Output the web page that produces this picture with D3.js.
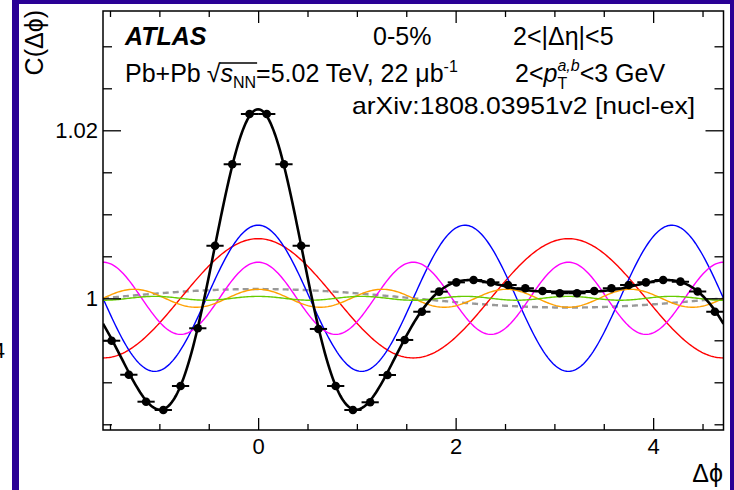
<!DOCTYPE html>
<html>
<head>
<meta charset="utf-8">
<script src="https://cdn.jsdelivr.net/npm/d3@7"></script>
<style>
body { margin: 0; background: #fff; }
svg { display: block; font-family: "Liberation Sans", Arial, Helvetica, sans-serif; }
</style>
</head>
<body>
<div id="chart"></div>
<script>
// data

// bin centres in delta-phi (bins of pi/18)
const binCentres = [-1.4835, -1.3090, -1.1345, -0.9599, -0.7854, -0.6109, -0.4363, -0.2618, -0.0873,
    0.0873, 0.2618, 0.4363, 0.6109, 0.7854, 0.9599, 1.1345, 1.3090, 1.4835,
    1.6581, 1.8326, 2.0071, 2.1817, 2.3562, 2.5307, 2.7053, 2.8798, 3.0543,
    3.2289, 3.4034, 3.5779, 3.7525, 3.9270, 4.1015, 4.2761, 4.4506, 4.6251];
const binWidth = Math.PI / 18;
// measured correlation C(dphi)
const corrValues = [0.99495, 0.99090, 0.98769, 0.98670, 0.98956, 0.99643, 1.00626, 1.01595, 1.02194,
    1.02194, 1.01595, 1.00626, 0.99635, 0.98956, 0.98670, 0.98762, 0.99087, 0.99504,
    0.99840, 1.00079, 1.00190, 1.00218, 1.00190, 1.00158, 1.00119, 1.00087, 1.00060,
    1.00060, 1.00087, 1.00119, 1.00158, 1.00190, 1.00218, 1.00198, 1.00081, 0.99840];

// fourier harmonics of the fit: amplitude of each cos(n dphi) term
const harmonicOrder = [1, 2, 3, 4, 5, 6];
const harmonicAmp = [0.0011, 0.0071, 0.0087, 0.0043, 0.00107, 0.00023];
const harmonicColor = ['#999999', '#ff0000', '#0000ff', '#ff00ff', '#ffa000', '#66cc00'];

// axis ticks
const xMajor = [0, 2, 4];
const xMinor = [-1.5, -1, -0.5, 0.5, 1, 1.5, 2.5, 3, 3.5, 4.5];
const yMajor = [1, 1.02];
const yMajorLabels = ['1', '1.02'];
const yMinor = [0.985, 0.99, 0.995, 1.005, 1.01, 1.015, 1.025, 1.03];

// layout
const W = 734, H = 490;
const plot = {left: 103, right: 723.5, top: 11, bottom: 430};
const frameBlue = '#2a0095';

const svg = d3.select('#chart').append('svg')
    .attr('width', W)
    .attr('height', H);

// blue frame strips
svg.append('rect').attr('x', 12).attr('y', 0).attr('width', 7).attr('height', H).attr('fill', frameBlue);
svg.append('rect').attr('x', 12).attr('y', 0).attr('width', W - 12).attr('height', 4).attr('fill', frameBlue);
svg.append('rect').attr('x', 730).attr('y', 0).attr('width', 4).attr('height', H).attr('fill', frameBlue);

// cut off label of the neighbouring panel (only its right edge shows)
svg.append('text').attr('x', 5).attr('y', 358).attr('text-anchor', 'end')
    .attr('font-size', 22).text('4');

// scales
let x = d3.scaleLinear()
    .domain([-Math.PI / 2, 3 * Math.PI / 2])
    .range([plot.left, plot.right]);
let y = d3.scaleLinear()
    .domain([0.984321, 1.034202])
    .range([plot.bottom, plot.top]);

svg.append('clipPath').attr('id', 'clip')
    .append('rect')
    .attr('x', plot.left).attr('y', plot.top)
    .attr('width', plot.right - plot.left).attr('height', plot.bottom - plot.top);

// fit components and the full fit
const samples = d3.range(0, 401).map(i => x.domain()[0] + i * (x.domain()[1] - x.domain()[0]) / 400);
const line = d3.line().x(d => x(d[0])).y(d => y(d[1]));

const curves = svg.append('g').attr('clip-path', 'url(#clip)');
harmonicOrder.forEach(function(n, i) {
    const pts = samples.map(p => [p, 1 + harmonicAmp[i] * Math.cos(n * p)]);
    curves.append('path')
        .attr('d', line(pts))
        .attr('fill', 'none')
        .attr('stroke', harmonicColor[i])
        .attr('stroke-width', n === 1 ? 2.4 : 1.4)
        .attr('stroke-dasharray', n === 1 ? '6,4' : null);
});
const fitPts = samples.map(p => [p, 1 + d3.sum(harmonicOrder, (n, i) => harmonicAmp[i] * Math.cos(n * p))]);
curves.append('path')
    .attr('d', line(fitPts))
    .attr('fill', 'none')
    .attr('stroke', '#000')
    .attr('stroke-width', 2.6);

// data points with bin-width bars
const pointData = binCentres.map((c, i) => ({c: c, v: corrValues[i]}));
const pts = svg.append('g').attr('clip-path', 'url(#clip)');
pts.selectAll('line.err')
    .data(pointData)
    .enter()
    .append('line')
    .attr('class', 'err')
    .attr('x1', d => x(d.c - binWidth / 2))
    .attr('x2', d => x(d.c + binWidth / 2))
    .attr('y1', d => y(d.v))
    .attr('y2', d => y(d.v))
    .attr('stroke', '#000')
    .attr('stroke-width', 2);
pts.selectAll('circle')
    .data(pointData)
    .enter()
    .append('circle')
    .attr('cx', d => x(d.c))
    .attr('cy', d => y(d.v))
    .attr('r', 4.3)
    .attr('fill', '#000');

// axes: ticks pointing inwards on all four sides
function ticks(axis, sel, vals, size, labels, pad) {
    axis.tickValues(vals).tickSizeInner(-size).tickSizeOuter(0).tickPadding(pad || 0)
        .tickFormat(labels ? ((d, i) => labels[i]) : '');
    const g = svg.append('g').attr('transform', sel).call(axis);
    g.select('.domain').remove();
    g.selectAll('.tick line').attr('stroke', '#000').attr('stroke-width', 1.3);
    g.selectAll('text').attr('font-size', 22).attr('fill', '#000')
        .attr('font-family', '"Liberation Sans", Arial, sans-serif');
    return g;
}
ticks(d3.axisBottom(x), `translate(0,${plot.bottom})`, xMajor, 12, xMajor.map(String), 8);
ticks(d3.axisBottom(x), `translate(0,${plot.bottom})`, xMinor, 6);
ticks(d3.axisTop(x), `translate(0,${plot.top})`, xMajor, 12);
ticks(d3.axisTop(x), `translate(0,${plot.top})`, xMinor, 6);
ticks(d3.axisLeft(y), `translate(${plot.left},0)`, yMajor, 18, yMajorLabels, 5);
ticks(d3.axisLeft(y), `translate(${plot.left},0)`, yMinor, 9);
ticks(d3.axisRight(y), `translate(${plot.right},0)`, yMajor, 18);
ticks(d3.axisRight(y), `translate(${plot.right},0)`, yMinor, 9);

svg.append('rect')
    .attr('x', plot.left).attr('y', plot.top)
    .attr('width', plot.right - plot.left).attr('height', plot.bottom - plot.top)
    .attr('fill', 'none').attr('stroke', '#000').attr('stroke-width', 1.5);

// axis titles
svg.append('text')
    .attr('transform', 'translate(43,10) rotate(-90)')
    .attr('text-anchor', 'end')
    .attr('font-size', 25)
    .text('C(\u0394\u03d5)');
svg.append('text')
    .attr('x', 723).attr('y', 482)
    .attr('text-anchor', 'end')
    .attr('font-size', 25)
    .text('\u0394\u03d5');

// labels built piece by piece (sub/superscripts)
function rich(x0, y0, pieces) {
    let cx = x0, holdW = 0;
    pieces.forEach(function(p) {
        const t = svg.append('text')
            .attr('x', cx).attr('y', y0 + (p.dy || 0))
            .attr('font-size', p.size || 25)
            .attr('font-style', p.italic ? 'italic' : null)
            .attr('font-weight', p.bold ? 'bold' : null)
            .text(p.t);
        const w = t.node().getComputedTextLength() + (p.gap || 0);
        p.x0 = cx; p.w = w;
        if (p.hold) { holdW = w; }
        else { cx += Math.max(w, holdW); holdW = 0; }
    });
    return pieces;
}

rich(125, 45, [{t: 'ATLAS', bold: true, italic: true}]);
rich(373, 45, [{t: '0-5%'}]);
rich(513, 45, [{t: '2<|\u0394\u03b7|<5'}]);

const l2 = rich(125, 82, [
    {t: 'Pb+Pb', gap: 6},
    {t: '\u221a'},
    {t: 's', italic: true},
    {t: 'NN', size: 16, dy: 6},
    {t: '=5.02 TeV, 22 \u03bcb'},
    {t: '-1', size: 16, dy: -10}
]);
svg.append('line')
    .attr('x1', l2[1].x0 + l2[1].w - 1).attr('x2', l2[3].x0 + l2[3].w + 1)
    .attr('y1', 63).attr('y2', 63)
    .attr('stroke', '#000').attr('stroke-width', 1.6);

rich(515, 82, [
    {t: '2<'},
    {t: 'p', italic: true},
    {t: 'a,b', size: 16, italic: true, dy: -11, hold: true},
    {t: 'T', size: 16, dy: 7},
    {t: '<3 GeV'}
]);

svg.append('text')
    .attr('x', 352).attr('y', 114)
    .attr('font-size', 24)
    .attr('textLength', 343)
    .attr('lengthAdjust', 'spacingAndGlyphs')
    .text('arXiv:1808.03951v2 [nucl-ex]');
</script>
</body>
</html>
